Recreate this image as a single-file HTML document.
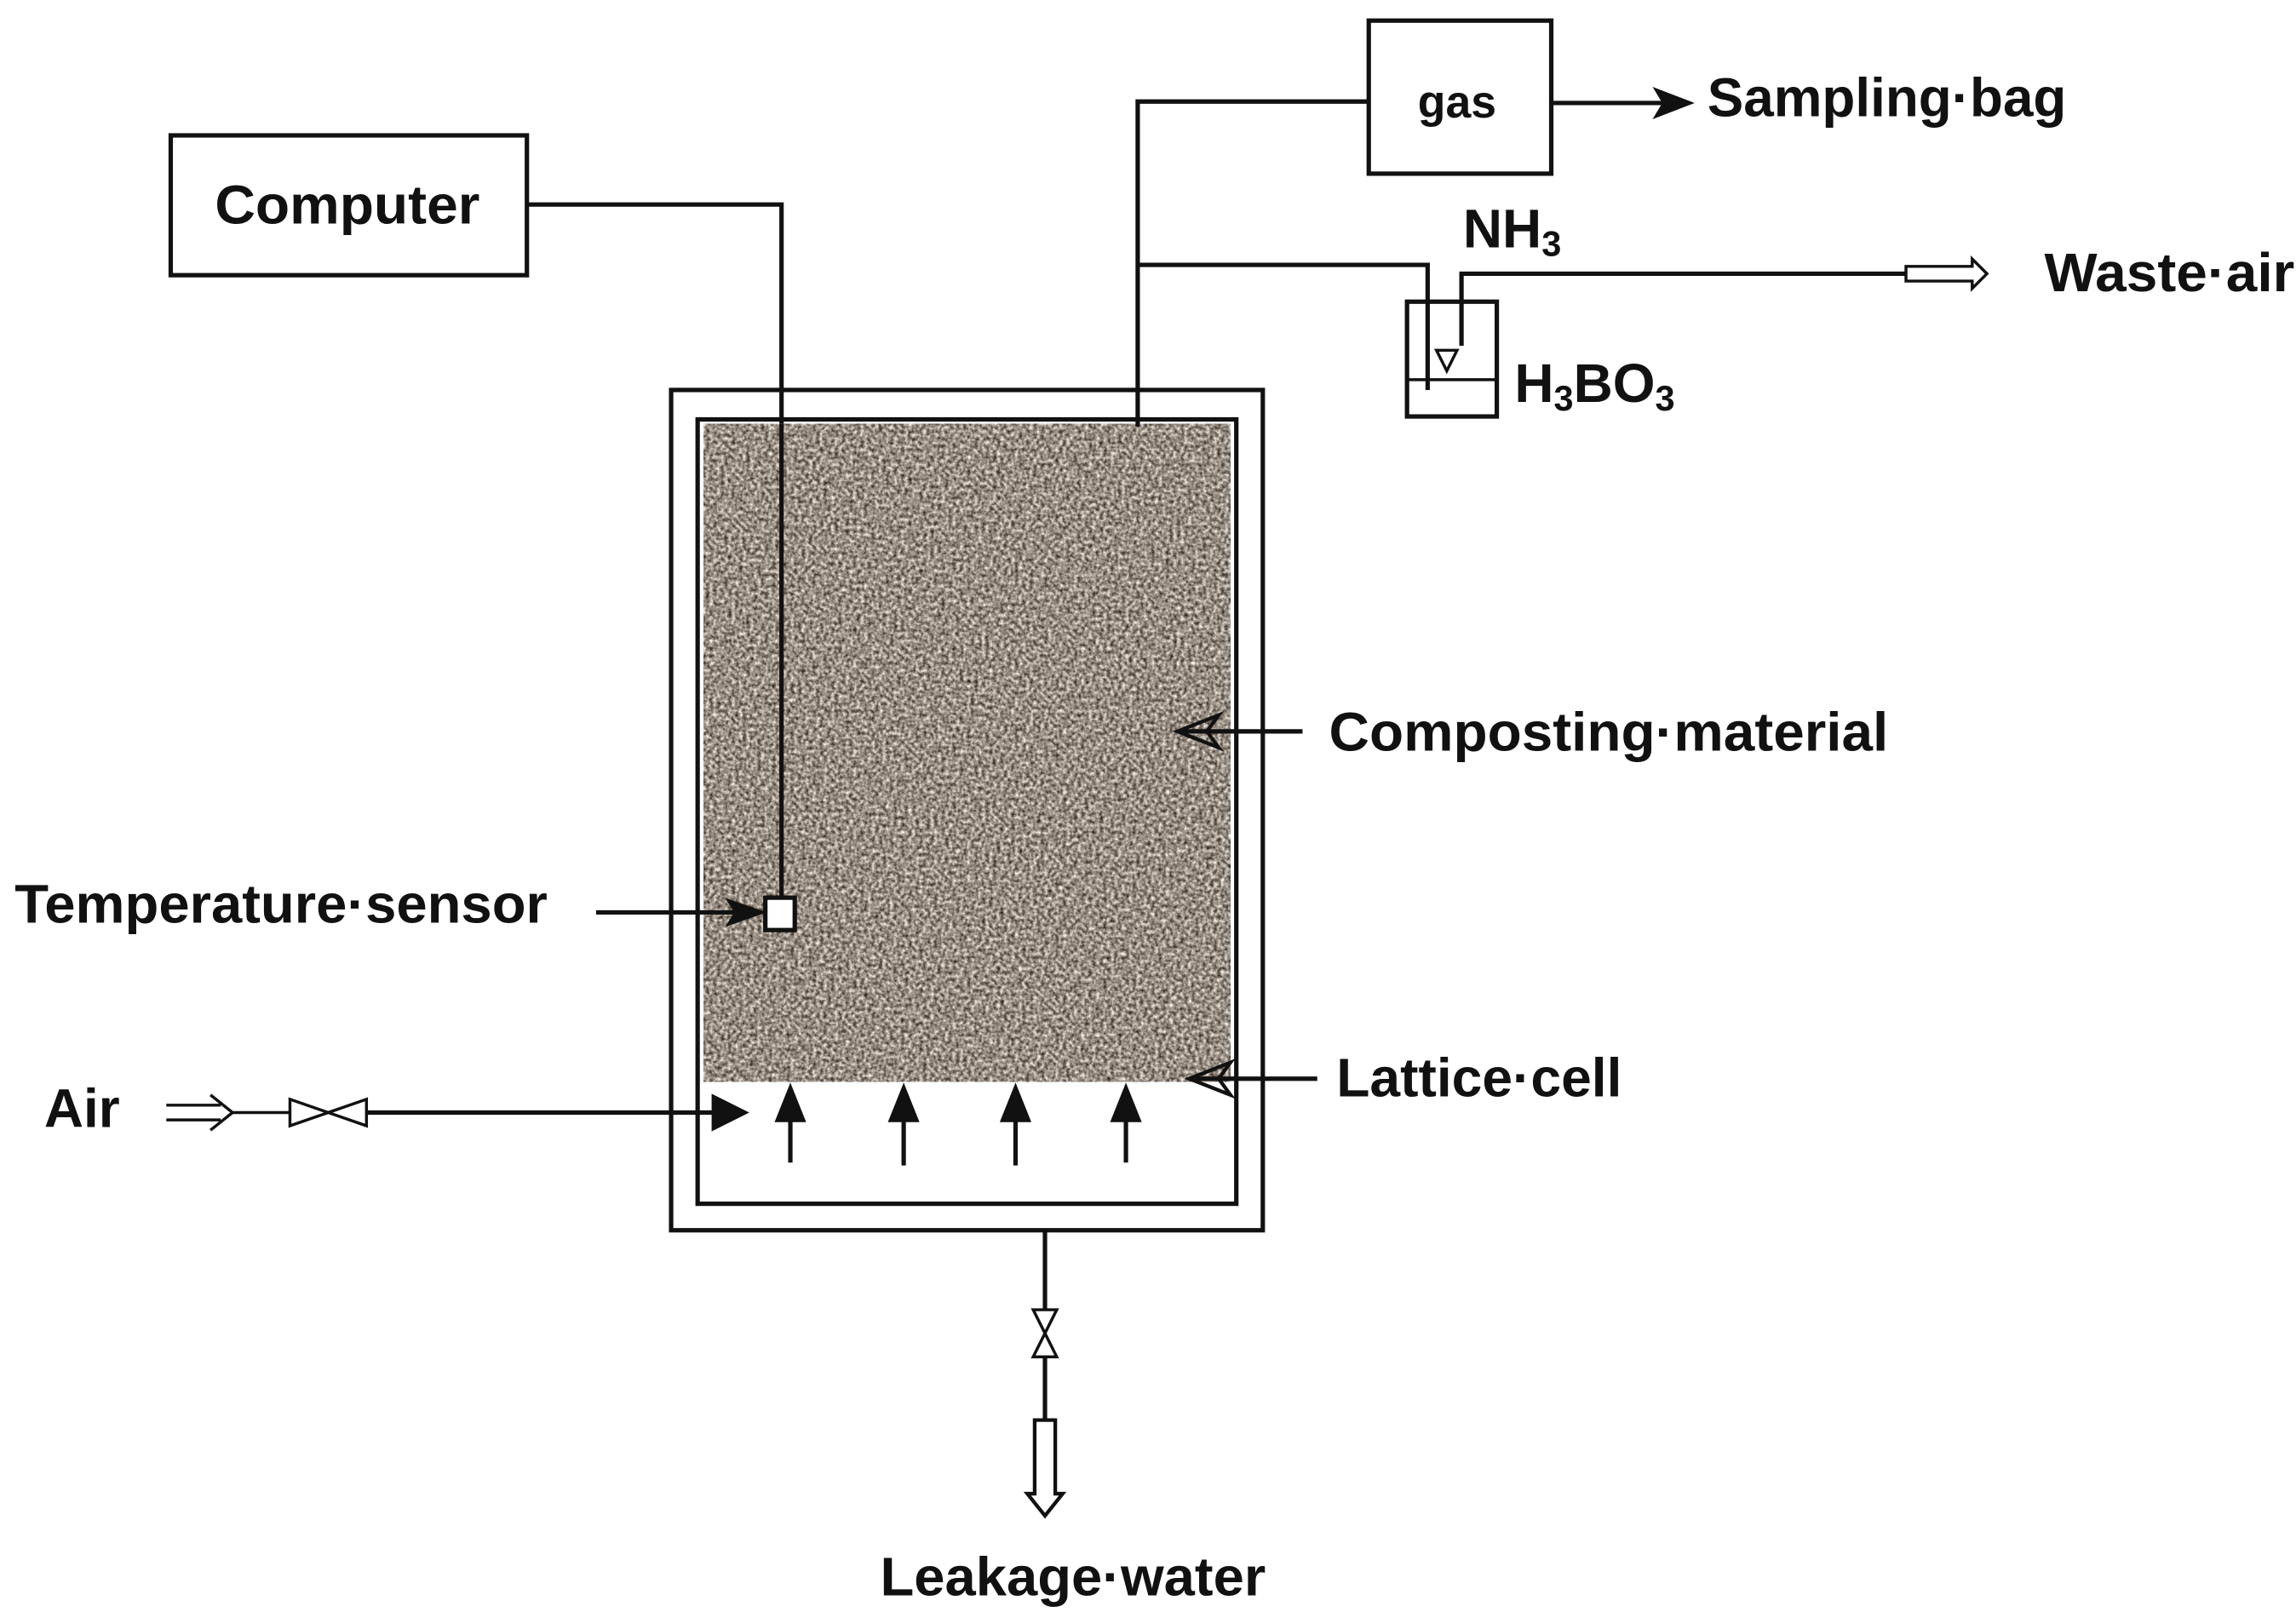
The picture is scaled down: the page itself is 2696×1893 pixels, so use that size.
<!DOCTYPE html>
<html><head><meta charset="utf-8"><style>
html,body{margin:0;padding:0;background:#fff;}
svg{display:block;}
text{font-family:"Liberation Sans",sans-serif;font-weight:bold;fill:#111;}
</style></head><body>
<svg width="2696" height="1893" viewBox="0 0 1560 1095.4" preserveAspectRatio="none" xmlns="http://www.w3.org/2000/svg">
<defs>
<filter id="grain" x="0" y="0" width="100%" height="100%" color-interpolation-filters="sRGB">
<feTurbulence type="fractalNoise" baseFrequency="0.4" numOctaves="2" seed="3" result="n"/>
<feColorMatrix type="matrix" in="n" values="1.15 0 0 0 0.02  1.15 0 0 0 -0.02  1.15 0 0 0 -0.06  0 0 0 0 1"/>
</filter>
</defs>
<g stroke="#111" stroke-width="3" fill="none">
<rect x="116" y="92" width="242" height="95"/>
<polyline points="358,139 531,139 531,610"/>
<rect x="456" y="265" width="402" height="571"/>
<rect x="474" y="285" width="366" height="533"/>
</g>
<rect x="478" y="288" width="358" height="447" fill="#9a8e84" filter="url(#grain)"/>
<g stroke="#111" stroke-width="3" fill="none">
<line x1="531" y1="288" x2="531" y2="610"/>
<rect x="520" y="610" width="20" height="22" fill="#fff"/>
<polyline points="773,290 773,69 930,69"/>
<rect x="930" y="14" width="124" height="104"/>
<line x1="1054" y1="70" x2="1140" y2="70"/>
<polyline points="773,180 970,180 970,265"/>
<rect x="956" y="205" width="61" height="78"/>
<line x1="956" y1="258" x2="1017" y2="258" stroke-width="2"/>
<polyline points="993,235 993,186 1295,186"/>
<line x1="405" y1="620" x2="515" y2="620"/>
<line x1="885" y1="497" x2="802" y2="497"/>
<line x1="895" y1="733" x2="812" y2="733"/>
<line x1="158" y1="756" x2="197" y2="756" stroke-width="2"/>
<line x1="249" y1="756" x2="490" y2="756"/>
<line x1="537" y1="790" x2="537" y2="755"/>
<line x1="614" y1="792" x2="614" y2="755"/>
<line x1="690" y1="792" x2="690" y2="755"/>
<line x1="765" y1="790" x2="765" y2="755"/>
<line x1="710" y1="836" x2="710" y2="890"/>
<line x1="710" y1="922" x2="710" y2="965"/>
</g>
<g fill="#111" stroke="#111">
<path d="M1150,70 L1124,60 L1130,70 L1124,80 Z"/>
<path d="M800,497 L828,486 L820,497 L828,508 Z" fill="none" stroke-width="2.5"/>
<path d="M808,733 L836,722 L828,733 L836,744 Z" fill="none" stroke-width="2.5"/>
<path d="M518,620 L495,612 L500,620 L495,628 Z" stroke-width="2"/>
<path d="M508,756 L484,744 L484,768 Z"/>
<path d="M537,737 L527,762 L547,762 Z"/>
<path d="M614,737 L604,762 L624,762 Z"/>
<path d="M690,737 L680,762 L700,762 Z"/>
<path d="M765,737 L755,762 L775,762 Z"/>
</g>
<g fill="none" stroke="#111" stroke-width="2">
<path d="M197,747 L249,765 L249,747 L197,765 Z" fill="#fff"/>
<path d="M113,751 L150,751 M113,761 L150,761 M143,744 L158,756 L143,768"/>
<path d="M1295,181 L1340,181 L1340,176 L1350,186 L1340,196 L1340,191 L1295,191 Z" fill="#fff"/>
<path d="M702,890 L718,922 L702,922 L718,890 Z" fill="#fff"/>
<path d="M703,965 L717,965 L717,1015 L722,1015 L710,1030 L698,1015 L703,1015 Z" fill="#fff" stroke-width="2.5"/>
<path d="M976,238 L990,238 L983,252 Z"/>
</g>
<g font-size="37">
<text x="236" y="152" text-anchor="middle" textLength="180" lengthAdjust="spacingAndGlyphs">Computer</text>
<text x="990" y="80" text-anchor="middle" font-weight="normal" font-size="31">gas</text>
<text x="1160" y="79" textLength="244" lengthAdjust="spacingAndGlyphs">Sampling·bag</text>
<text x="994" y="168">NH<tspan font-size="24" dy="6">3</tspan></text>
<text x="1029" y="273">H<tspan font-size="24" dy="6">3</tspan><tspan dy="-6">BO</tspan><tspan font-size="24" dy="6">3</tspan></text>
<text x="1389" y="198" textLength="170" lengthAdjust="spacingAndGlyphs">Waste·air</text>
<text x="903" y="510" textLength="380" lengthAdjust="spacingAndGlyphs">Composting·material</text>
<text x="10" y="627" textLength="362" lengthAdjust="spacingAndGlyphs">Temperature·sensor</text>
<text x="908" y="745" textLength="194" lengthAdjust="spacingAndGlyphs">Lattice·cell</text>
<text x="30" y="766">Air</text>
<text x="598" y="1084" textLength="262" lengthAdjust="spacingAndGlyphs">Leakage·water</text>
</g>
</svg>
</body></html>
